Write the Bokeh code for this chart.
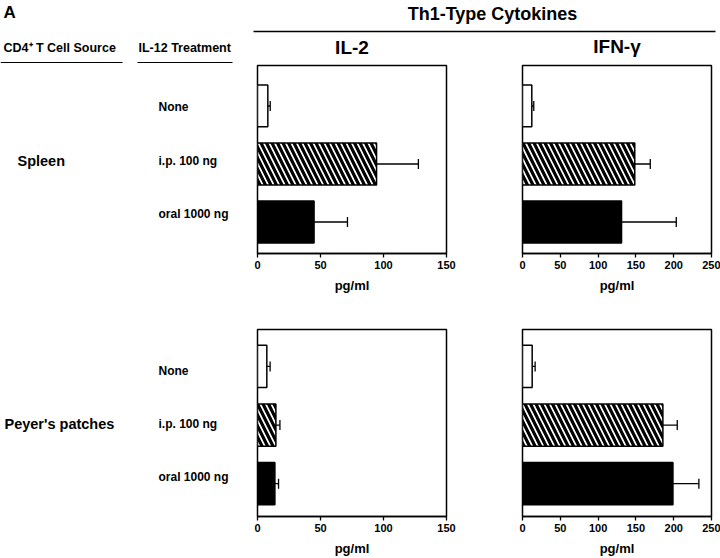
from bokeh.plotting import figure
from bokeh.models import Range1d, ColumnDataSource, Whisker, TeeHead, FixedTicker
from bokeh.layouts import column, row
from bokeh.core.properties import value
from bokeh.embed import file_html
from bokeh.resources import INLINE

# ---------------- data ----------------
treatments = ["None", "i.p. 100 ng", "oral 1000 ng"]
sources = ["Spleen", "Peyer's patches"]
cytokines = ["IL-2", "IFN-\u03b3"]

il2_spleen = [8.2, 94.5, 44.9]
il2_spleen_err = [1.9, 33.2, 26.5]
ifn_spleen = [12.3, 148.5, 131.0]
ifn_spleen_err = [2.6, 20.5, 72.4]
il2_pp = [7.4, 14.6, 13.8]
il2_pp_err = [2.6, 3.2, 2.9]
ifn_pp = [12.8, 185.7, 199.0]
ifn_pp_err = [3.9, 19.0, 34.3]

il2_ticks = [0, 50, 100, 150]
ifn_ticks = [0, 50, 100, 150, 200, 250]

# ---------------- styles ----------------
FONT = value("Liberation Sans")
bar_fill = ["white", "white", "black"]
bar_hatch = [" ", "\\", " "]


def panel(vals, errs, ticks, yr, w, h, bl, br, bt, bb):
    p = figure(width=w, height=h, x_range=Range1d(ticks[0], ticks[-1]), y_range=yr,
               output_backend="svg", toolbar_location=None, y_axis_location=None,
               min_border_left=bl, min_border_right=br, min_border_top=bt,
               min_border_bottom=bb)
    p.xgrid.visible = False
    p.ygrid.visible = False
    p.outline_line_color = "black"
    p.outline_line_width = 1.5
    p.outline_line_alpha = 1
    pos = [len(treatments) - i for i in range(len(treatments))]
    src = ColumnDataSource(dict(
        y=pos, right=vals, upper=[v + e for v, e in zip(vals, errs)],
        fill=bar_fill, hatch=bar_hatch))
    p.hbar(y="y", left=0, right="right", height=0.72, source=src,
           fill_color="fill", line_color="black", line_width=1.5,
           hatch_pattern="hatch", hatch_color="black", hatch_scale=11,
           hatch_weight=3.2)
    wk = Whisker(source=src, base="y", lower="right", upper="upper",
                 dimension="width", line_color="black", line_width=1.3,
                 lower_head=None,
                 upper_head=TeeHead(size=10, line_color="black", line_width=1.3))
    p.add_layout(wk)
    ax = p.xaxis[0]
    ax.ticker = FixedTicker(ticks=ticks)
    ax.minor_tick_line_color = None
    ax.major_tick_in = 0
    ax.major_tick_out = 4
    ax.major_tick_line_width = 1.3
    ax.axis_line_width = 1.5
    ax.major_label_standoff = 3
    ax.major_label_text_font = "Liberation Sans"
    ax.major_label_text_font_style = "bold"
    ax.major_label_text_font_size = "11px"
    ax.major_label_text_color = "black"
    ax.axis_label = "pg/ml"
    ax.axis_label_standoff = 6
    ax.axis_label_text_font = "Liberation Sans"
    ax.axis_label_text_font_style = "bold"
    ax.axis_label_text_font_size = "13px"
    ax.axis_label_text_color = "black"
    return p


def blank(w, h, xr, yr):
    p = figure(width=w, height=h, x_range=xr, y_range=yr, output_backend="svg",
               toolbar_location=None, x_axis_location=None, y_axis_location=None,
               min_border=0)
    p.xgrid.visible = False
    p.ygrid.visible = False
    p.outline_line_color = None
    return p


# ---------------- header ----------------
hdr = blank(720, 64, Range1d(0, 720), Range1d(64, 0))
hdr.text(x=[3], y=[12], text=["A"], text_font=FONT, text_font_style="bold",
         text_font_size="17px", text_baseline="middle", text_align="left")
hdr.text(x=[492], y=[13], text=["Th1-Type Cytokines"], text_font=FONT,
         text_font_style="bold", text_font_size="18px", text_baseline="middle",
         text_align="center")
hdr.segment(x0=[253], y0=[31], x1=[715], y1=[31], line_color="black", line_width=1.5)
hdr.text(x=[3, 138], y=[47, 47], text=["CD4\u207a T Cell Source", "IL-12 Treatment"],
         text_font=FONT, text_font_style="bold", text_font_size="12.5px",
         text_baseline="middle", text_align="left")
hdr.segment(x0=[0, 137], y0=[62, 62], x1=[122, 232], y1=[62, 62],
            line_color="black", line_width=1.2)
hdr.text(x=[351.5, 616.5], y=[47, 46], text=cytokines, text_font=FONT,
         text_font_style="bold", text_font_size="19px", text_baseline="middle",
         text_align="center")

# ---------------- rows ----------------
yr_top = Range1d(0.457, 3.698)
yr_bot = Range1d(0.44, 3.63)


def left_fig(h, yr, src_label, src_x):
    p = blank(240, h, Range1d(0, 240), yr)
    pos = [len(treatments) - i for i in range(len(treatments))]
    p.text(x=[158] * 3, y=pos, text=treatments, text_font=FONT,
           text_font_style="bold", text_font_size="12px", text_baseline="middle",
           text_align="left")
    p.text(x=[src_x], y=[2], text=[src_label], text_font=FONT,
           text_font_style="bold", text_font_size="14.5px", text_baseline="middle",
           text_align="left")
    return p


l1 = left_fig(246, Range1d(0.262, 3.776), sources[0], 17)
p1 = panel(il2_spleen, il2_spleen_err, il2_ticks, yr_top, 240, 246, 17, 34, 1, 57)
p2 = panel(ifn_spleen, ifn_spleen_err, ifn_ticks, yr_top, 240, 246, 42, 9, 1, 57)

l2 = left_fig(248, Range1d(0.245, 3.792), sources[1], 4)
p3 = panel(il2_pp, il2_pp_err, il2_ticks, yr_bot, 240, 248, 17, 34, 19, 41)
p4 = panel(ifn_pp, ifn_pp_err, ifn_ticks, yr_bot, 240, 248, 42, 9, 19, 41)

layout = column(hdr, row(l1, p1, p2), row(l2, p3, p4))

open("out.html", "w").write(file_html(layout, INLINE))
